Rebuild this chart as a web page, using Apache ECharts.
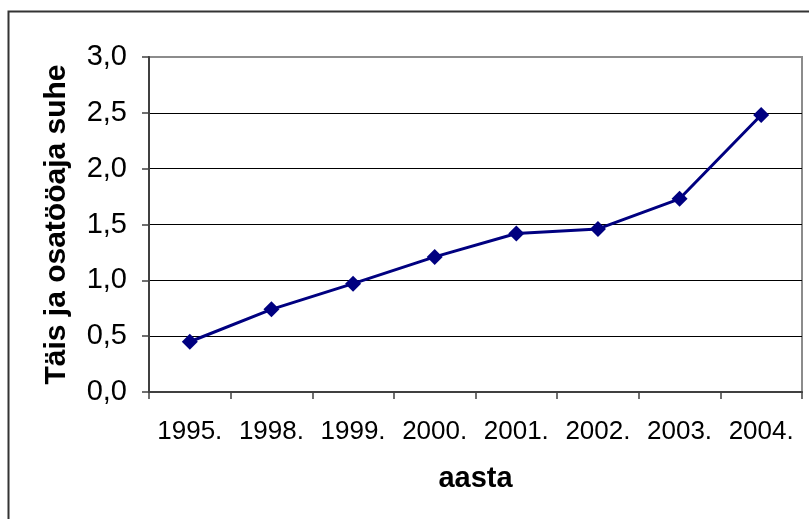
<!DOCTYPE html>
<html>
<head>
<meta charset="utf-8">
<script src="https://cdn.jsdelivr.net/npm/echarts@6/dist/echarts.min.js"></script>
<style>
html,body{margin:0;padding:0;background:#fff;}
#c{width:809px;height:519px;}
</style>
</head>
<body>
<div id="c"></div>
<script>
const categories = ['1995.', '1998.', '1999.', '2000.', '2001.', '2002.', '2003.', '2004.'];
const ratioValues = [0.45, 0.74, 0.97, 1.21, 1.42, 1.46, 1.73, 2.48];
const yAxisName = 'Täis ja osatööaja suhe';
const xAxisName = 'aasta';

const chart = echarts.init(document.getElementById('c'));
const fmt = v => v.toFixed(1).replace('.', ',');
const FF = 'Liberation Sans, Arial, sans-serif';
chart.setOption({
  animation: false,
  backgroundColor: '#ffffff',
  textStyle: { fontFamily: FF },
  graphic: [{
    type: 'rect',
    shape: { x: 8.5, y: 11.5, width: 840, height: 540 },
    style: { fill: 'none', stroke: '#333333', lineWidth: 2 },
    silent: true
  }],
  grid: {
    left: 149, right: 7, top: 57, bottom: 127,
    show: true, borderColor: '#8c8c8c', borderWidth: 2, backgroundColor: 'transparent'
  },
  xAxis: {
    type: 'category',
    data: categories,
    boundaryGap: true,
    name: xAxisName,
    nameLocation: 'middle',
    nameGap: 72,
    nameTextStyle: { fontSize: 29, fontWeight: 'bold', color: '#000', fontFamily: FF },
    axisLine: { lineStyle: { color: '#404040', width: 2 } },
    axisTick: { show: true, interval: 0, length: 7, alignWithLabel: false, lineStyle: { color: '#404040', width: 1.5 } },
    axisLabel: { interval: 0, hideOverlap: false, fontSize: 26, color: '#000', margin: 27, fontFamily: FF }
  },
  yAxis: {
    type: 'value',
    min: 0, max: 3, interval: 0.5,
    name: yAxisName,
    nameLocation: 'middle',
    nameGap: 77,
    nameTextStyle: { fontSize: 30, fontWeight: 'bold', color: '#000', fontFamily: FF },
    axisLine: { show: true, lineStyle: { color: '#404040', width: 2 } },
    axisTick: { show: true, length: 7, lineStyle: { color: '#404040', width: 1.5 } },
    axisLabel: { fontSize: 29, color: '#000', margin: 22, formatter: fmt, fontFamily: FF },
    splitLine: { show: true, lineStyle: { color: ['#000', '#000', '#000', '#000', '#000', '#000', '#8c8c8c'], width: 1.2 } }
  },
  series: [{
    type: 'line',
    data: ratioValues,
    symbol: 'diamond',
    symbolSize: 16,
    lineStyle: { color: '#000080', width: 3 },
    itemStyle: { color: '#000080' }
  }]
});
</script>
</body>
</html>
